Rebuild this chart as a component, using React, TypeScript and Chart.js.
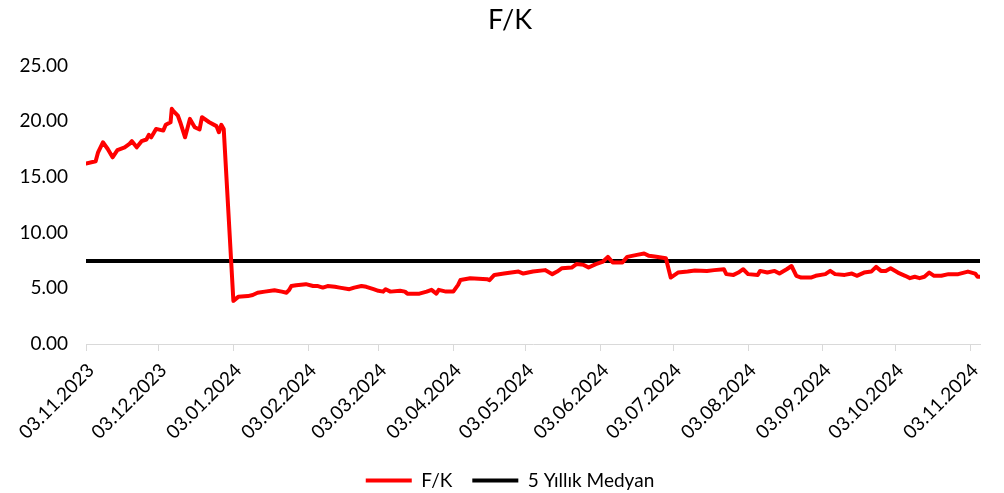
import React, { useEffect, useRef } from "react";
import { Chart, registerables } from "chart.js";

Chart.register(...registerables);

// Days since 03.11.2023
const fkDays = [
  0, 4, 5, 7, 9, 11, 13, 16, 18, 19, 21, 23, 25, 26, 27, 29, 32, 33, 35, 35.5, 36, 38, 39, 41, 43, 45, 47, 48, 51, 54, 55, 56, 57,
  61, 63, 67, 69, 71, 74, 78, 81, 83, 84, 85, 87, 91, 94, 96, 98, 100, 103, 105, 109, 111, 114, 116, 119, 121, 123, 124, 126, 130, 132, 133, 138, 141, 143, 145, 146, 149, 152,
  154, 155, 159, 166, 167, 169, 173, 179, 181, 185, 190, 193, 195, 197, 201, 203, 206, 208, 211, 214, 216, 218, 222, 224, 228, 231, 233, 236, 240,
  242, 245, 249, 252, 257, 260, 264, 265, 268, 270, 272, 274, 278, 279, 282, 285, 287, 290, 292, 294, 296, 300, 302, 306, 308, 310, 314, 317, 319, 322, 325, 327, 329, 331, 333, 336, 339, 341, 343, 345, 347, 349, 351, 354, 357, 361, 365, 368, 369, 370,
];
const fkValues = [
  16.2, 16.4, 17.2, 18.1, 17.5, 16.75, 17.4, 17.65, 17.96, 18.2, 17.65, 18.2, 18.35, 18.77, 18.55, 19.3, 19.15, 19.67, 19.9, 21.1, 20.95, 20.5, 19.9, 18.55, 20.2, 19.45, 19.25, 20.35, 19.9, 19.55, 19.0, 19.67, 19.3,
  3.87, 4.23, 4.3, 4.4, 4.6, 4.7, 4.83, 4.7, 4.6, 4.83, 5.2, 5.28, 5.37, 5.2, 5.2, 5.06, 5.2, 5.13, 5.06, 4.92, 5.06, 5.2, 5.13, 4.92, 4.77, 4.7, 4.92, 4.7, 4.77, 4.7, 4.52, 4.52, 4.7, 4.86, 4.52, 4.86, 4.7, 4.7,
  5.3, 5.75, 5.9, 5.82, 5.73, 6.2, 6.32, 6.5, 6.32, 6.5, 6.63, 6.27, 6.5, 6.8, 6.86, 7.17, 7.1, 6.86, 7.17, 7.4, 7.82, 7.31, 7.31, 7.82, 8.0, 8.12, 7.91, 7.82, 7.7,
  5.96, 6.41, 6.5, 6.6, 6.56, 6.63, 6.71, 6.27, 6.2, 6.41, 6.71, 6.27, 6.2, 6.56, 6.41, 6.56, 6.32, 6.71, 7.0, 6.12, 5.96, 5.96, 6.12, 6.27, 6.56, 6.27, 6.2, 6.32, 6.12, 6.41, 6.5, 6.92, 6.56, 6.56, 6.8, 6.41, 6.12, 5.91, 6.03, 5.91, 6.03, 6.41, 6.12, 6.12, 6.27, 6.27, 6.5, 6.32, 6.03, 6.03,
];
const medianValue = 7.45;
const medianDays = [0, 370];

const tickDays = [0, 30, 61, 92, 121, 152, 182, 213, 243, 274, 305, 335, 366];
const tickLabels = [
  "03.11.2023", "03.12.2023", "03.01.2024", "03.02.2024", "03.03.2024", "03.04.2024",
  "03.05.2024", "03.06.2024", "03.07.2024", "03.08.2024", "03.09.2024", "03.10.2024", "03.11.2024",
];
const yTicks = [0, 5, 10, 15, 20, 25];

const FONT = "Lato, 'Open Sans', sans-serif";

// Centre title and legend over the whole figure rather than the padded layout box
const shiftBoxes = {
  id: "shiftBoxes",
  afterLayout(chart: any) {
    const dx = 20;
    [chart.legend, chart.titleBlock].forEach((b: any) => {
      if (b) {
        b.left += dx;
        b.right += dx;
      }
    });
  },
};

export default function App() {
  const ref = useRef<HTMLCanvasElement | null>(null);
  useEffect(() => {
    if (!ref.current) return;
    const chart = new Chart(ref.current, {
      type: "line",
      data: {
        datasets: [
          {
            label: "F/K",
            data: fkDays.map((d, i) => ({ x: d, y: fkValues[i] })),
            borderColor: "#FF0000",
            backgroundColor: "#FF0000",
            borderWidth: 4,
            pointRadius: 0,
            borderJoinStyle: "round",
            borderCapStyle: "round",
            tension: 0,
          },
          {
            label: "5 Yıllık Medyan",
            data: medianDays.map((d) => ({ x: d, y: medianValue })),
            borderColor: "#000000",
            backgroundColor: "#000000",
            borderWidth: 4,
            pointRadius: 0,
            borderCapStyle: "round",
          },
        ],
      },
      plugins: [shiftBoxes],
      options: {
        responsive: false,
        animation: false,
        layout: { padding: { left: 0, right: 24, top: 0, bottom: -7 } },
        plugins: {
          title: {
            display: true,
            text: "F/K",
            color: "#000",
            font: { family: FONT, size: 27, weight: "normal" },
            padding: { top: 4, bottom: 29 },
          },
          legend: {
            position: "bottom",
            labels: {
              color: "#000",
              font: { family: FONT, size: 19 },
              boxWidth: 46,
              boxHeight: 4,
              padding: 20,
              generateLabels: (c: any) =>
                c.data.datasets.map((ds: any, i: number) => ({
                  text: ds.label,
                  fillStyle: ds.borderColor,
                  strokeStyle: ds.borderColor,
                  lineWidth: 0,
                  hidden: false,
                  datasetIndex: i,
                  fontColor: "#000",
                })),
            },
          },
          tooltip: { enabled: false },
        },
        scales: {
          x: {
            type: "linear",
            min: 0,
            max: 370,
            afterBuildTicks: (s: any) => {
              s.ticks = tickDays.map((v) => ({ value: v }));
            },
            afterFit: (s: any) => {
              s.height = 107;
            },
            ticks: {
              autoSkip: false,
              minRotation: 45,
              maxRotation: 45,
              color: "#000",
              font: { family: FONT, size: 19 },
              padding: 8,
              labelOffset: 5,
              callback: (v: any) => {
                const i = tickDays.indexOf(Number(v));
                return i >= 0 ? tickLabels[i] : "";
              },
            },
            grid: {
              drawOnChartArea: false,
              color: "#d9d9d9",
              tickLength: 7,
            },
            border: { color: "#d9d9d9", width: 1 },
          },
          y: {
            min: 0,
            max: 25,
            afterBuildTicks: (s: any) => {
              s.ticks = yTicks.map((v) => ({ value: v }));
            },
            afterFit: (s: any) => {
              s.width = 86;
            },
            ticks: {
              color: "#000",
              font: { family: FONT, size: 19 },
              padding: 18,
              callback: (v: any) => Number(v).toFixed(2),
            },
            grid: { display: false, drawTicks: false },
            border: { display: false },
          },
        },
      },
    });
    return () => chart.destroy();
  }, []);
  return (
    <div style={{ position: "absolute", left: 0, top: 0, width: 1004, height: 493, background: "#fff" }}>
      <canvas ref={ref} width={1004} height={493} />
    </div>
  );
}
